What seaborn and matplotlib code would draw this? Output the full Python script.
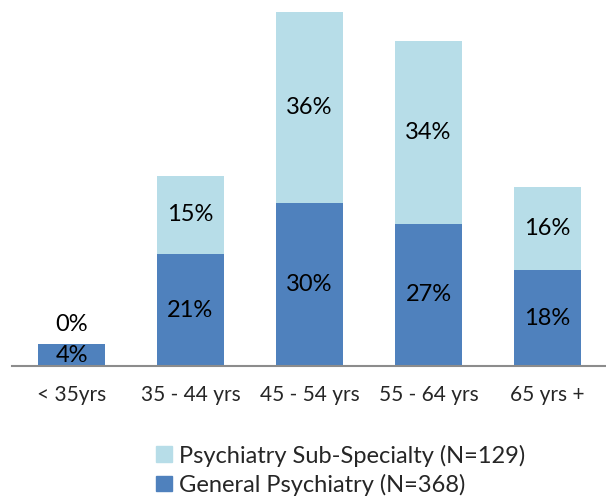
import matplotlib
matplotlib.use("Agg")
import matplotlib.pyplot as plt
import seaborn as sns
import pandas as pd
from matplotlib.patches import Patch

# data (% of each group)
age_groups = ["< 35yrs", "35 - 44 yrs", "45 - 54 yrs", "55 - 64 yrs", "65 yrs +"]
general = [4.1, 20.9, 30.4, 26.6, 17.9]
sub_specialty = [0.0, 14.7, 35.7, 34.1, 15.5]
general_name = "General Psychiatry (N=368)"
sub_name = "Psychiatry Sub-Specialty (N=129)"

dark = "#4F81BD"
light = "#B7DDE8"

df = pd.DataFrame({"age": age_groups, "general": general, "sub": sub_specialty})
df["total"] = df["general"] + df["sub"]

sns.set_style("white")
plt.rcParams["font.family"] = ["Lato", "DejaVu Sans"]

fig = plt.figure(figsize=(6.06, 4.98), dpi=100)
ax = fig.add_axes([12 / 606, (498 - 366) / 498, 595 / 606, 366 / 498])

# stacked bars: total first (light), general on top of it (dark)
sns.barplot(data=df, x="age", y="total", color=light, width=0.563,
            saturation=1, linewidth=0, ax=ax)
sns.barplot(data=df, x="age", y="general", color=dark, width=0.563,
            saturation=1, linewidth=0, ax=ax)

ax.set_ylim(0, 366 / 5.35)
ax.set_xlim(-0.5, 4.5)
ax.set_xlabel("")
ax.set_ylabel("")
ax.set_yticks([])
ax.tick_params(axis="x", length=0, pad=14, labelsize=15)
for s in ["top", "left", "right"]:
    ax.spines[s].set_visible(False)
ax.spines["bottom"].set_color("#8C8C8C")
ax.spines["bottom"].set_linewidth(1.5)

# value labels
for i, row in df.iterrows():
    ax.text(i, row["general"] / 2, f"{row['general']:.0f}%", ha="center",
            va="center", fontsize=17, color="black")
    if row["sub"] > 2:
        ax.text(i, row["general"] + row["sub"] / 2, f"{row['sub']:.0f}%",
                ha="center", va="center", fontsize=17, color="black")
    else:
        ax.annotate(f"{row['sub']:.0f}%", (i, row["total"]), xytext=(0, 14),
                    textcoords="offset points", ha="center", va="center",
                    fontsize=17, color="black")

handles = [Patch(color=light, label=sub_name), Patch(color=dark, label=general_name)]
fig.legend(handles=handles, loc="upper left", bbox_to_anchor=(147 / 606, 1 - 435 / 498),
           frameon=False, fontsize=17, handlelength=0.65, handleheight=0.65,
           handletextpad=0.3, labelspacing=0.3, borderaxespad=0)

fig.savefig("out.png", dpi=100)
